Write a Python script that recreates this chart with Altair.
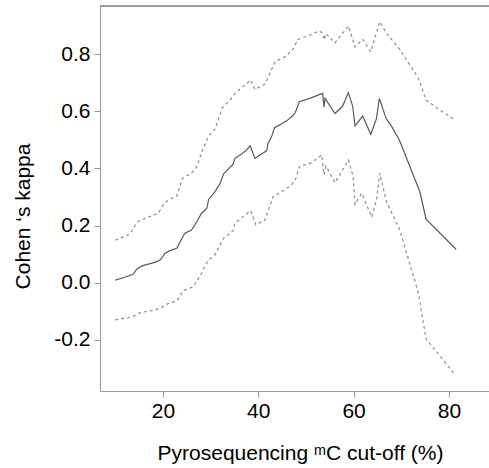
import altair as alt
import pandas as pd

# Cohen's kappa (solid)
kappa_x = [10.0, 12.0, 13.8, 14.5, 15.5, 16.9, 18.3, 19.4, 19.9, 20.4, 21.5, 22.9, 23.9, 24.6, 26.0,
           27.1, 28.1, 29.2, 29.6, 30.9, 32.0, 32.7, 33.7, 34.7, 35.1, 36.5, 37.4, 38.3, 39.3, 40.7,
           41.8, 42.0, 42.8, 43.4, 44.5, 46.0, 47.2, 47.8, 48.6, 50.8, 53.5, 53.8, 54.0, 56.1, 57.7,
           58.9, 59.8, 60.3, 61.9, 63.6, 64.8, 65.4, 66.8, 68.0, 69.6, 73.9, 75.2, 81.5]
kappa_y = [0.009, 0.019, 0.030, 0.047, 0.058, 0.065, 0.071, 0.079, 0.089, 0.103, 0.112, 0.120, 0.152,
           0.173, 0.184, 0.213, 0.243, 0.260, 0.292, 0.318, 0.348, 0.380, 0.397, 0.414, 0.435, 0.450,
           0.462, 0.479, 0.435, 0.450, 0.462, 0.485, 0.511, 0.542, 0.552, 0.567, 0.583, 0.596, 0.633,
           0.645, 0.662, 0.614, 0.645, 0.592, 0.618, 0.665, 0.618, 0.548, 0.583, 0.519, 0.575, 0.645,
           0.575, 0.546, 0.499, 0.318, 0.222, 0.117]

# Upper confidence bound (dashed)
upper_x = [10.0, 13.1, 14.5, 15.5, 16.9, 19.0, 20.4, 21.5, 22.9, 24.1, 26.0, 27.1, 28.1, 29.5, 30.9,
           32.5, 34.1, 35.1, 36.8, 38.4, 39.3, 41.4, 42.6, 43.5, 45.6, 47.3, 48.3, 50.8, 52.8, 53.5,
           53.8, 54.2, 56.1, 58.9, 60.3, 61.9, 63.6, 65.5, 66.9, 69.7, 73.6, 75.2, 78.1, 81.3]
upper_y = [0.149, 0.170, 0.210, 0.219, 0.229, 0.243, 0.280, 0.292, 0.303, 0.365, 0.383, 0.406, 0.455,
           0.511, 0.537, 0.613, 0.639, 0.662, 0.686, 0.709, 0.676, 0.695, 0.738, 0.773, 0.790, 0.816,
           0.851, 0.866, 0.881, 0.872, 0.849, 0.872, 0.839, 0.898, 0.825, 0.851, 0.808, 0.913, 0.872,
           0.816, 0.715, 0.639, 0.604, 0.569]

# Lower confidence bound (dashed)
lower_x = [10.0, 13.4, 15.2, 17.6, 19.4, 20.8, 22.9, 24.3, 26.4, 28.1, 29.5, 30.9, 32.7, 34.7, 35.1,
           36.8, 38.4, 39.5, 41.4, 43.1, 44.9, 47.0, 47.9, 48.6, 51.2, 53.3, 53.8, 54.2, 56.1, 58.9,
           59.9, 60.3, 61.7, 63.8, 64.8, 65.5, 66.9, 69.7, 73.6, 75.2, 78.1, 81.3]
lower_y = [-0.130, -0.121, -0.105, -0.098, -0.090, -0.075, -0.064, -0.028, -0.014, 0.033, 0.079, 0.097,
           0.155, 0.182, 0.208, 0.231, 0.252, 0.202, 0.219, 0.301, 0.318, 0.342, 0.365, 0.406, 0.420,
           0.447, 0.377, 0.408, 0.350, 0.429, 0.371, 0.275, 0.313, 0.229, 0.289, 0.383, 0.283, 0.184,
           -0.037, -0.198, -0.256, -0.323]

x_ticks = [20, 40, 60, 80]
y_ticks = [-0.2, 0.0, 0.2, 0.4, 0.6, 0.8]

rows = []
for s, xs, ys in [("kappa", kappa_x, kappa_y), ("upper", upper_x, upper_y), ("lower", lower_x, lower_y)]:
    for i, (a, b) in enumerate(zip(xs, ys)):
        rows.append({"series": s, "order": i, "cutoff": a, "kappa": b})
df = pd.DataFrame(rows)

FONT = "Liberation Sans"
AX = "#9a9a9a"
FS = 21

x_enc = alt.X("cutoff:Q",
              scale=alt.Scale(domain=[6.8, 88.4], nice=False, zero=False),
              axis=alt.Axis(values=x_ticks, format="d", grid=False, domainColor=AX, tickColor=AX,
                            tickSize=6, labelPadding=3, labelFontSize=FS, labelFont=FONT,
                            labelColor="#000", title="Pyrosequencing ᵐC cut-off (%)",
                            titleFont=FONT, titleFontSize=FS, titleFontWeight="normal",
                            titleColor="#000", titleX=200, titleY=62, titleAnchor="middle",
                            titleBaseline="middle", titleAlign="center"))
y_enc = alt.Y("kappa:Q",
              scale=alt.Scale(domain=[-0.379, 0.968], nice=False, zero=False),
              axis=alt.Axis(values=y_ticks, grid=False, domainColor=AX, tickColor=AX,
                            labelExpr="datum.value < 0 ? '-' + format(abs(datum.value), '.1f') : format(datum.value, '.1f')",
                            tickSize=6, labelPadding=4, labelFontSize=FS, labelFont=FONT,
                            labelColor="#000", title="Cohen ‘s kappa",
                            titleFont=FONT, titleFontSize=FS, titleFontWeight="normal",
                            titleColor="#000", titleX=-77, titleY=210, titleAngle=-90,
                            titleAlign="center", titleBaseline="middle"))

solid = alt.Chart(df).transform_filter(alt.datum.series == "kappa").mark_line(
    color="#5a5a5a", strokeWidth=1.2
).encode(x=x_enc, y=y_enc, order="order:Q")

dashed = alt.Chart(df).transform_filter(alt.datum.series != "kappa").mark_line(
    color="#8c8c8c", strokeWidth=1.2, strokeDash=[3, 3]
).encode(x=x_enc, y=y_enc, detail="series:N", order="order:Q")

frame_top = alt.Chart(df).mark_rule(color=AX, strokeWidth=1).encode(
    x=alt.value(0), x2=alt.value(389), y=alt.value(0)
)

chart = alt.layer(frame_top, dashed, solid).properties(
    width=389, height=385,
    autosize=alt.AutoSizeParams(type="none"),
    padding={"left": 100, "top": 6, "right": 0, "bottom": 77},
).configure_view(stroke=None).configure(background="white")

chart.save("out.html", embed_options={"renderer": "svg", "actions": False})
